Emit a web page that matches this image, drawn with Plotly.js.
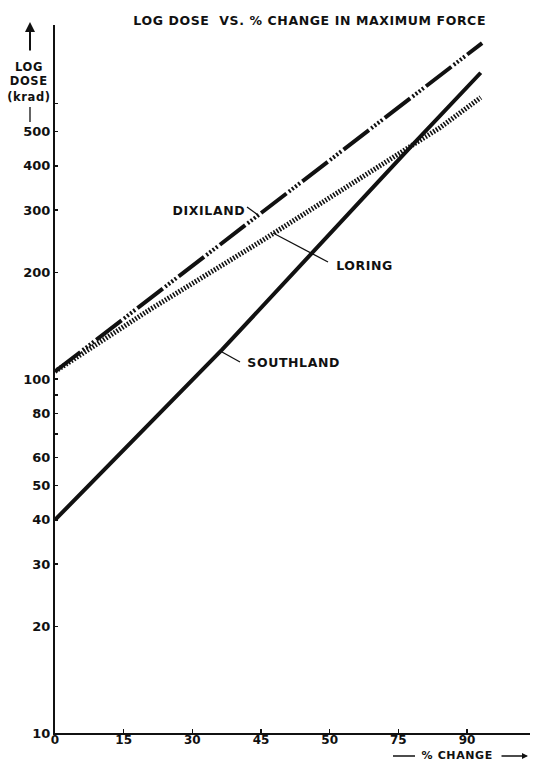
<!DOCTYPE html>
<html>
<head>
<meta charset="utf-8">
<script src="https://cdn.plot.ly/plotly-3.0.1.min.js"></script>
<style>
html,body{margin:0;padding:0;background:#fff;}
#chart{width:542px;height:761px;}
#chart .annotation-text{letter-spacing:0.6px;}
</style>
</head>
<body>
<div id="chart"></div>
<script>
// ---- data ----
const xTickVals = [0, 15, 30, 45, 60, 75, 90];
const xTickText = ['0', '15', '30', '45', '50', '75', '90'];
const yTickVals = [10, 20, 30, 40, 50, 60, 70, 80, 90, 100, 200, 300, 400, 500, 600];
const yTickText = ['10', '20', '30', '40', '50', '60', '', '80', '', '100', '200', '300', '400', '500', ''];

const dixilandX = [0, 44, 93.3];
const dixilandY = [105, 288, 889];
const loringX = [0, 20.7, 44.8, 78.2, 84.1, 93];
const loringY = [105, 157, 244, 460, 513, 624];
const southlandX = [0, 36.5, 78.2, 93];
const southlandY = [40, 121, 460, 733];

const seriesNames = ['DIXILAND', 'LORING', 'SOUTHLAND'];
const titleText = 'LOG DOSE&nbsp;&nbsp;VS. % CHANGE IN MAXIMUM FORCE';

// ---- layout geometry ----
const W = 542, H = 761;
const L = 55, R = 12, T = 25, B = 28;
const pw = W - L - R, ph = H - T - B;
const px = x => (x - L) / pw;          // pixel -> paper x
const py = y => (H - B - y) / ph;      // pixel -> paper y

const font = 'DejaVu Sans, Liberation Sans, Arial, sans-serif';
const ink = '#111';

const traces = [
  {x: dixilandX, y: dixilandY, mode: 'lines', name: seriesNames[0],
   line: {color: ink, width: 4, dash: '32px,3px,2px,2px,2px,2px,2px,2px,2px,3px'}},
  {x: loringX, y: loringY, mode: 'lines', name: seriesNames[1],
   line: {color: ink, width: 5, dash: '1.6px,1.6px'}},
  {x: southlandX, y: southlandY, mode: 'lines', name: seriesNames[2],
   line: {color: ink, width: 4}}
];

const lbl = (text, x, y, size, anchor) => ({
  text: text, xref: 'paper', yref: 'paper', x: px(x), y: py(y),
  xanchor: anchor || 'center', yanchor: 'middle', showarrow: false,
  font: {family: font, size: size, color: ink, weight: 'bold'}
});

const annotations = [
  lbl(titleText, 309, 21, 12.5),
  lbl('LOG', 29, 67, 11.5),
  lbl('DOSE', 29, 81, 11.5),
  lbl('(krad)', 29, 97, 11.5),
  lbl(seriesNames[0], 209, 210, 12.5),
  lbl(seriesNames[1], 364, 265, 12.5),
  lbl(seriesNames[2], 293, 362, 12.5),
  lbl('% CHANGE', 457, 755.5, 11),
  // arrow up on y label
  {xref: 'paper', yref: 'paper', x: px(30), y: py(22), ax: 0, ay: 30, text: '',
   showarrow: true, arrowhead: 2, arrowsize: 1, arrowwidth: 2, arrowcolor: ink},
  // arrow right on x label
  {xref: 'paper', yref: 'paper', x: px(528), y: py(756), ax: -28, ay: 0, text: '',
   showarrow: true, arrowhead: 2, arrowsize: 0.8, arrowwidth: 1.5, arrowcolor: ink}
];

const seg = (x0, y0, x1, y1, w) => ({
  type: 'line', xref: 'paper', yref: 'paper',
  x0: px(x0), y0: py(y0), x1: px(x1), y1: py(y1),
  line: {color: ink, width: w || 1.3}
});

const shapes = [
  seg(247, 207, 258, 215),
  seg(328, 262, 273, 233),
  seg(240, 362, 222, 352),
  seg(30, 107, 30, 122, 1.3),
  seg(393, 756, 415, 756, 1.5)
];

const layout = {
  width: W, height: H,
  margin: {l: L, r: R, t: T, b: B, pad: 0},
  paper_bgcolor: '#fff', plot_bgcolor: '#fff',
  showlegend: false,
  xaxis: {
    range: [0, 90 * pw / 412], showgrid: false, zeroline: false,
    showline: true, linecolor: ink, linewidth: 2,
    tickmode: 'array', tickvals: xTickVals, ticktext: xTickText,
    ticks: 'inside', ticklen: 4, tickwidth: 1.5, tickcolor: ink,
    ticklabelstandoff: -5,
    tickfont: {family: font, size: 12, color: ink, weight: 'bold'}
  },
  yaxis: {
    type: 'log', range: [1, 3], showgrid: false, zeroline: false,
    showline: true, linecolor: ink, linewidth: 2,
    tickmode: 'array', tickvals: yTickVals, ticktext: yTickText,
    ticks: 'inside', ticklen: 3, tickwidth: 1.5, tickcolor: ink,
    tickfont: {family: font, size: 13, color: ink, weight: 'bold'}
  },
  annotations: annotations,
  shapes: shapes
};

Plotly.newPlot('chart', traces, layout, {displayModeBar: false, staticPlot: true});
</script>
</body>
</html>
